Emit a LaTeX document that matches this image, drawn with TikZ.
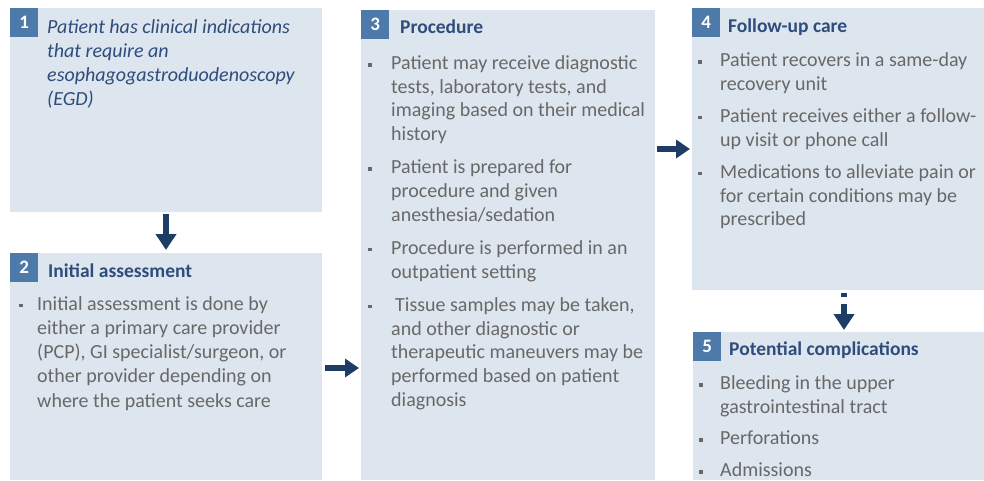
\documentclass[tikz,border=0pt]{standalone}
\usepackage{fontspec}
\setmainfont{Carlito}
\usetikzlibrary{arrows.meta}
\definecolor{boxfill}{HTML}{DDE5EE}
\definecolor{badgeblue}{HTML}{4E7AAA}
\definecolor{titleblue}{HTML}{2E4C7C}
\definecolor{bodygray}{HTML}{686868}
\definecolor{arrowblue}{HTML}{1D3C66}
\newcommand\bm{\rule[3pt]{3.5pt}{3.5pt}}
\tikzset{
  panel/.style={rectangle, fill=boxfill, anchor=north west, inner sep=0pt, outer sep=0pt},
  badge/.style={rectangle, fill=badgeblue, text=white, font=\fontsize{19}{19}\selectfont\bfseries,
    minimum width=28pt, minimum height=29pt, inner sep=0pt, anchor=north west},
  title/.style={anchor=base west, inner sep=0pt, text=titleblue, font=\fontsize{19.5}{23.7}\selectfont\bfseries},
  body/.style={anchor=base west, inner sep=0pt, text=bodygray},
  flow/.style={draw=arrowblue, line width=6pt, -{Triangle[width=20pt,length=16pt]}},
  flowh/.style={draw=arrowblue, line width=5.5pt, -{Triangle[width=18pt,length=14pt]}},
}
\begin{document}
\begin{tikzpicture}[x=1pt,y=-1pt]
\useasboundingbox (0,0) rectangle (984,480);
% panels
\node[panel, minimum width=312pt, minimum height=204pt] (b1) at (10,8) {};
\node[panel, minimum width=312pt, minimum height=227pt] (b2) at (10,253) {};
\node[panel, minimum width=294pt, minimum height=470pt] (b3) at (361,10) {};
\node[panel, minimum width=292pt, minimum height=282pt] (b4) at (692,8) {};
\node[panel, minimum width=291pt, minimum height=148pt] (b5) at (693,332) {};
% badges
\node[badge] (n1) at (b1.north west) {1};
\node[badge] (n2) at (b2.north west) {2};
\node[badge] (n3) at (b3.north west) {3};
\node[badge] (n4) at (b4.north west) {4};
\node[badge] (n5) at (b5.north west) {5};
% box 1
\node[body, text=titleblue, font=\fontsize{20}{24}\selectfont\itshape] (t1) at (47,33)
  {\begin{tabular}[t]{@{}l@{}}Patient has clinical indications\\that require an\\esophagogastroduodenoscopy\\(EGD)\end{tabular}};
% box 2
\node[title] (h2) at (48,277.5) {Initial assessment};
\node[body, font=\fontsize{20}{24.3}\selectfont] (t2) at (19,310)
  {\begin{tabular}[t]{@{}p{18pt}@{}l@{}}
   \bm & Initial assessment is done by\\
       & either a primary care provider\\
       & (PCP), GI specialist/surgeon, or\\
       & other provider depending on\\
       & where the patient seeks care
   \end{tabular}};
% box 3
\node[title] (h3) at (400,33) {Procedure};
\node[body, font=\fontsize{20}{23.7}\selectfont] (t3) at (368,69.5)
  {\begin{tabular}[t]{@{}p{23pt}@{}l@{}}
   \bm & Patient may receive diagnostic\\
       & tests, laboratory tests, and\\
       & imaging based on their medical\\
       & history\\[9.5pt]
   \bm & Patient is prepared for\\
       & procedure and given\\
       & anesthesia/sedation\\[9.5pt]
   \bm & Procedure is performed in an\\
       & outpatient setting\\[9.5pt]
   \bm & \hspace{4pt}Tissue samples may be taken,\\
       & and other diagnostic or\\
       & therapeutic maneuvers may be\\
       & performed based on patient\\
       & diagnosis
   \end{tabular}};
% box 4
\node[title] (h4) at (728,32) {Follow-up care};
\node[body, font=\fontsize{20}{23.7}\selectfont] (t4) at (698,66.5)
  {\begin{tabular}[t]{@{}p{22pt}@{}l@{}}
   \bm & Patient recovers in a same-day\\
       & recovery unit\\[8.5pt]
   \bm & Patient receives either a follow-\\
       & up visit or phone call\\[8.5pt]
   \bm & Medications to alleviate pain or\\
       & for certain conditions may be\\
       & prescribed
   \end{tabular}};
% box 5
\node[title] (h5) at (729,355.5) {Potential complications};
\node[body, font=\fontsize{20}{24}\selectfont] (t5) at (699,389.5)
  {\begin{tabular}[t]{@{}p{21pt}@{}l@{}}
   \bm & Bleeding in the upper\\
       & gastrointestinal tract\\[7pt]
   \bm & Perforations\\[8pt]
   \bm & Admissions
   \end{tabular}};
% connectors
\draw[flow, shorten <=2pt, shorten >=3pt] (b1.south) -- (b2.north);
\coordinate (a23) at ([yshift=-1.5pt]b2.east);
\draw[flowh, shorten <=3pt, shorten >=2pt] (a23) -- (a23 -| b3.west);
\draw[flowh, shorten <=2pt, shorten >=2pt] (b4.west -| b3.east) -- (b4.west);
\coordinate (a45) at ([xshift=6pt]b4.south);
\draw[flow, dash pattern=on 4pt off 7pt on 60pt, shorten <=3pt, shorten >=2pt] (a45) -- (a45 |- b5.north);
\end{tikzpicture}
\end{document}
